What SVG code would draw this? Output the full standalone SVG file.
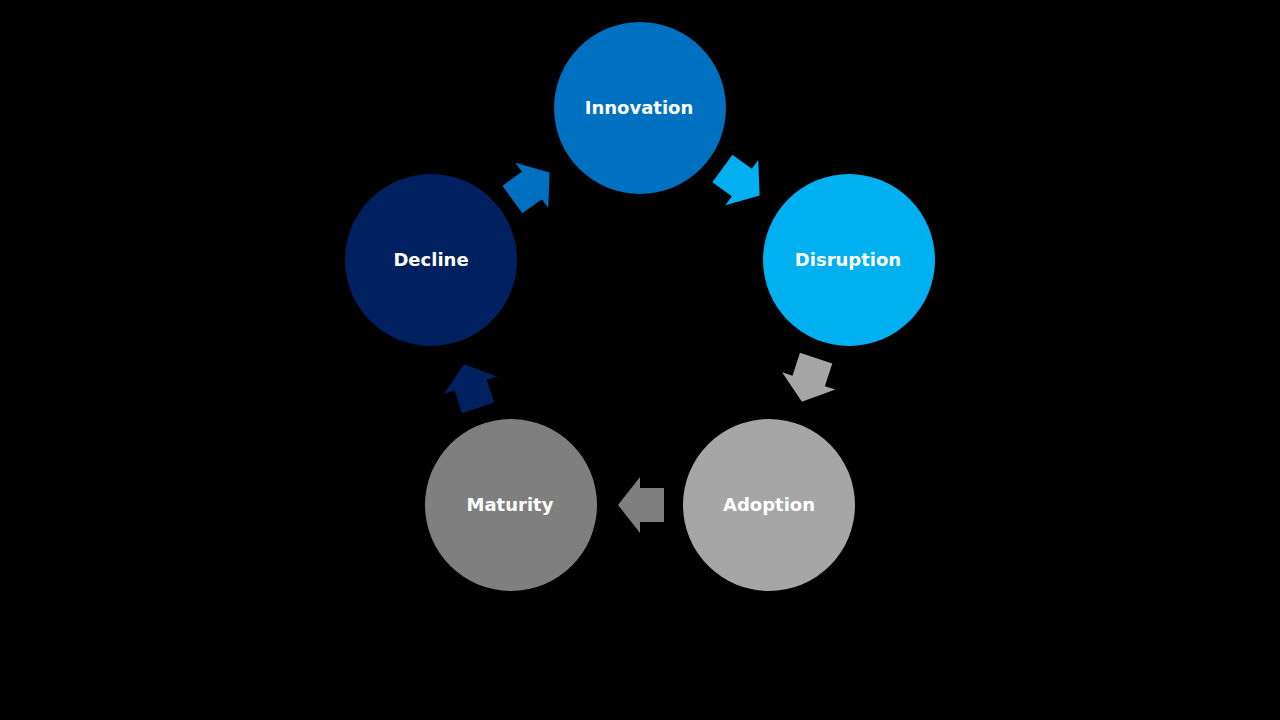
<svg xmlns="http://www.w3.org/2000/svg" width="1280" height="720" viewBox="0 0 1280 720">
<defs>
<style>
.lbl{font-family:"DejaVu Sans","Liberation Sans",sans-serif;font-weight:bold;font-size:18px;fill:#FFFFFF;text-anchor:middle;dominant-baseline:central}
</style>
<polygon id="arr" points="-23,-17 1,-17 1,-28 23,0 1,28 1,17 -23,17"/>
</defs>
<rect width="1280" height="720" fill="#000000"/>
<g id="connectors">
<use href="#arr" fill="#00B0F0" transform="translate(741,182) rotate(36)"/>
<use href="#arr" fill="#A6A6A6" transform="translate(809,380) rotate(108)"/>
<use href="#arr" fill="#7F7F7F" transform="translate(641,505) rotate(180)"/>
<use href="#arr" fill="#002060" transform="translate(471,386) rotate(252)"/>
<use href="#arr" fill="#0070C0" transform="translate(531,186) rotate(324)"/>
</g>
<g id="innovation"><circle cx="640" cy="108" r="86" fill="#0070C0"/><text class="lbl" x="639" y="107">Innovation</text></g>
<g id="disruption"><circle cx="849" cy="260" r="86" fill="#00B0F0"/><text class="lbl" x="848" y="259">Disruption</text></g>
<g id="adoption"><circle cx="769" cy="505" r="86" fill="#A6A6A6"/><text class="lbl" x="769" y="504">Adoption</text></g>
<g id="maturity"><circle cx="511" cy="505" r="86" fill="#7F7F7F"/><text class="lbl" x="510" y="504">Maturity</text></g>
<g id="decline"><circle cx="431" cy="260" r="86" fill="#002060"/><text class="lbl" x="431" y="259">Decline</text></g>
</svg>
